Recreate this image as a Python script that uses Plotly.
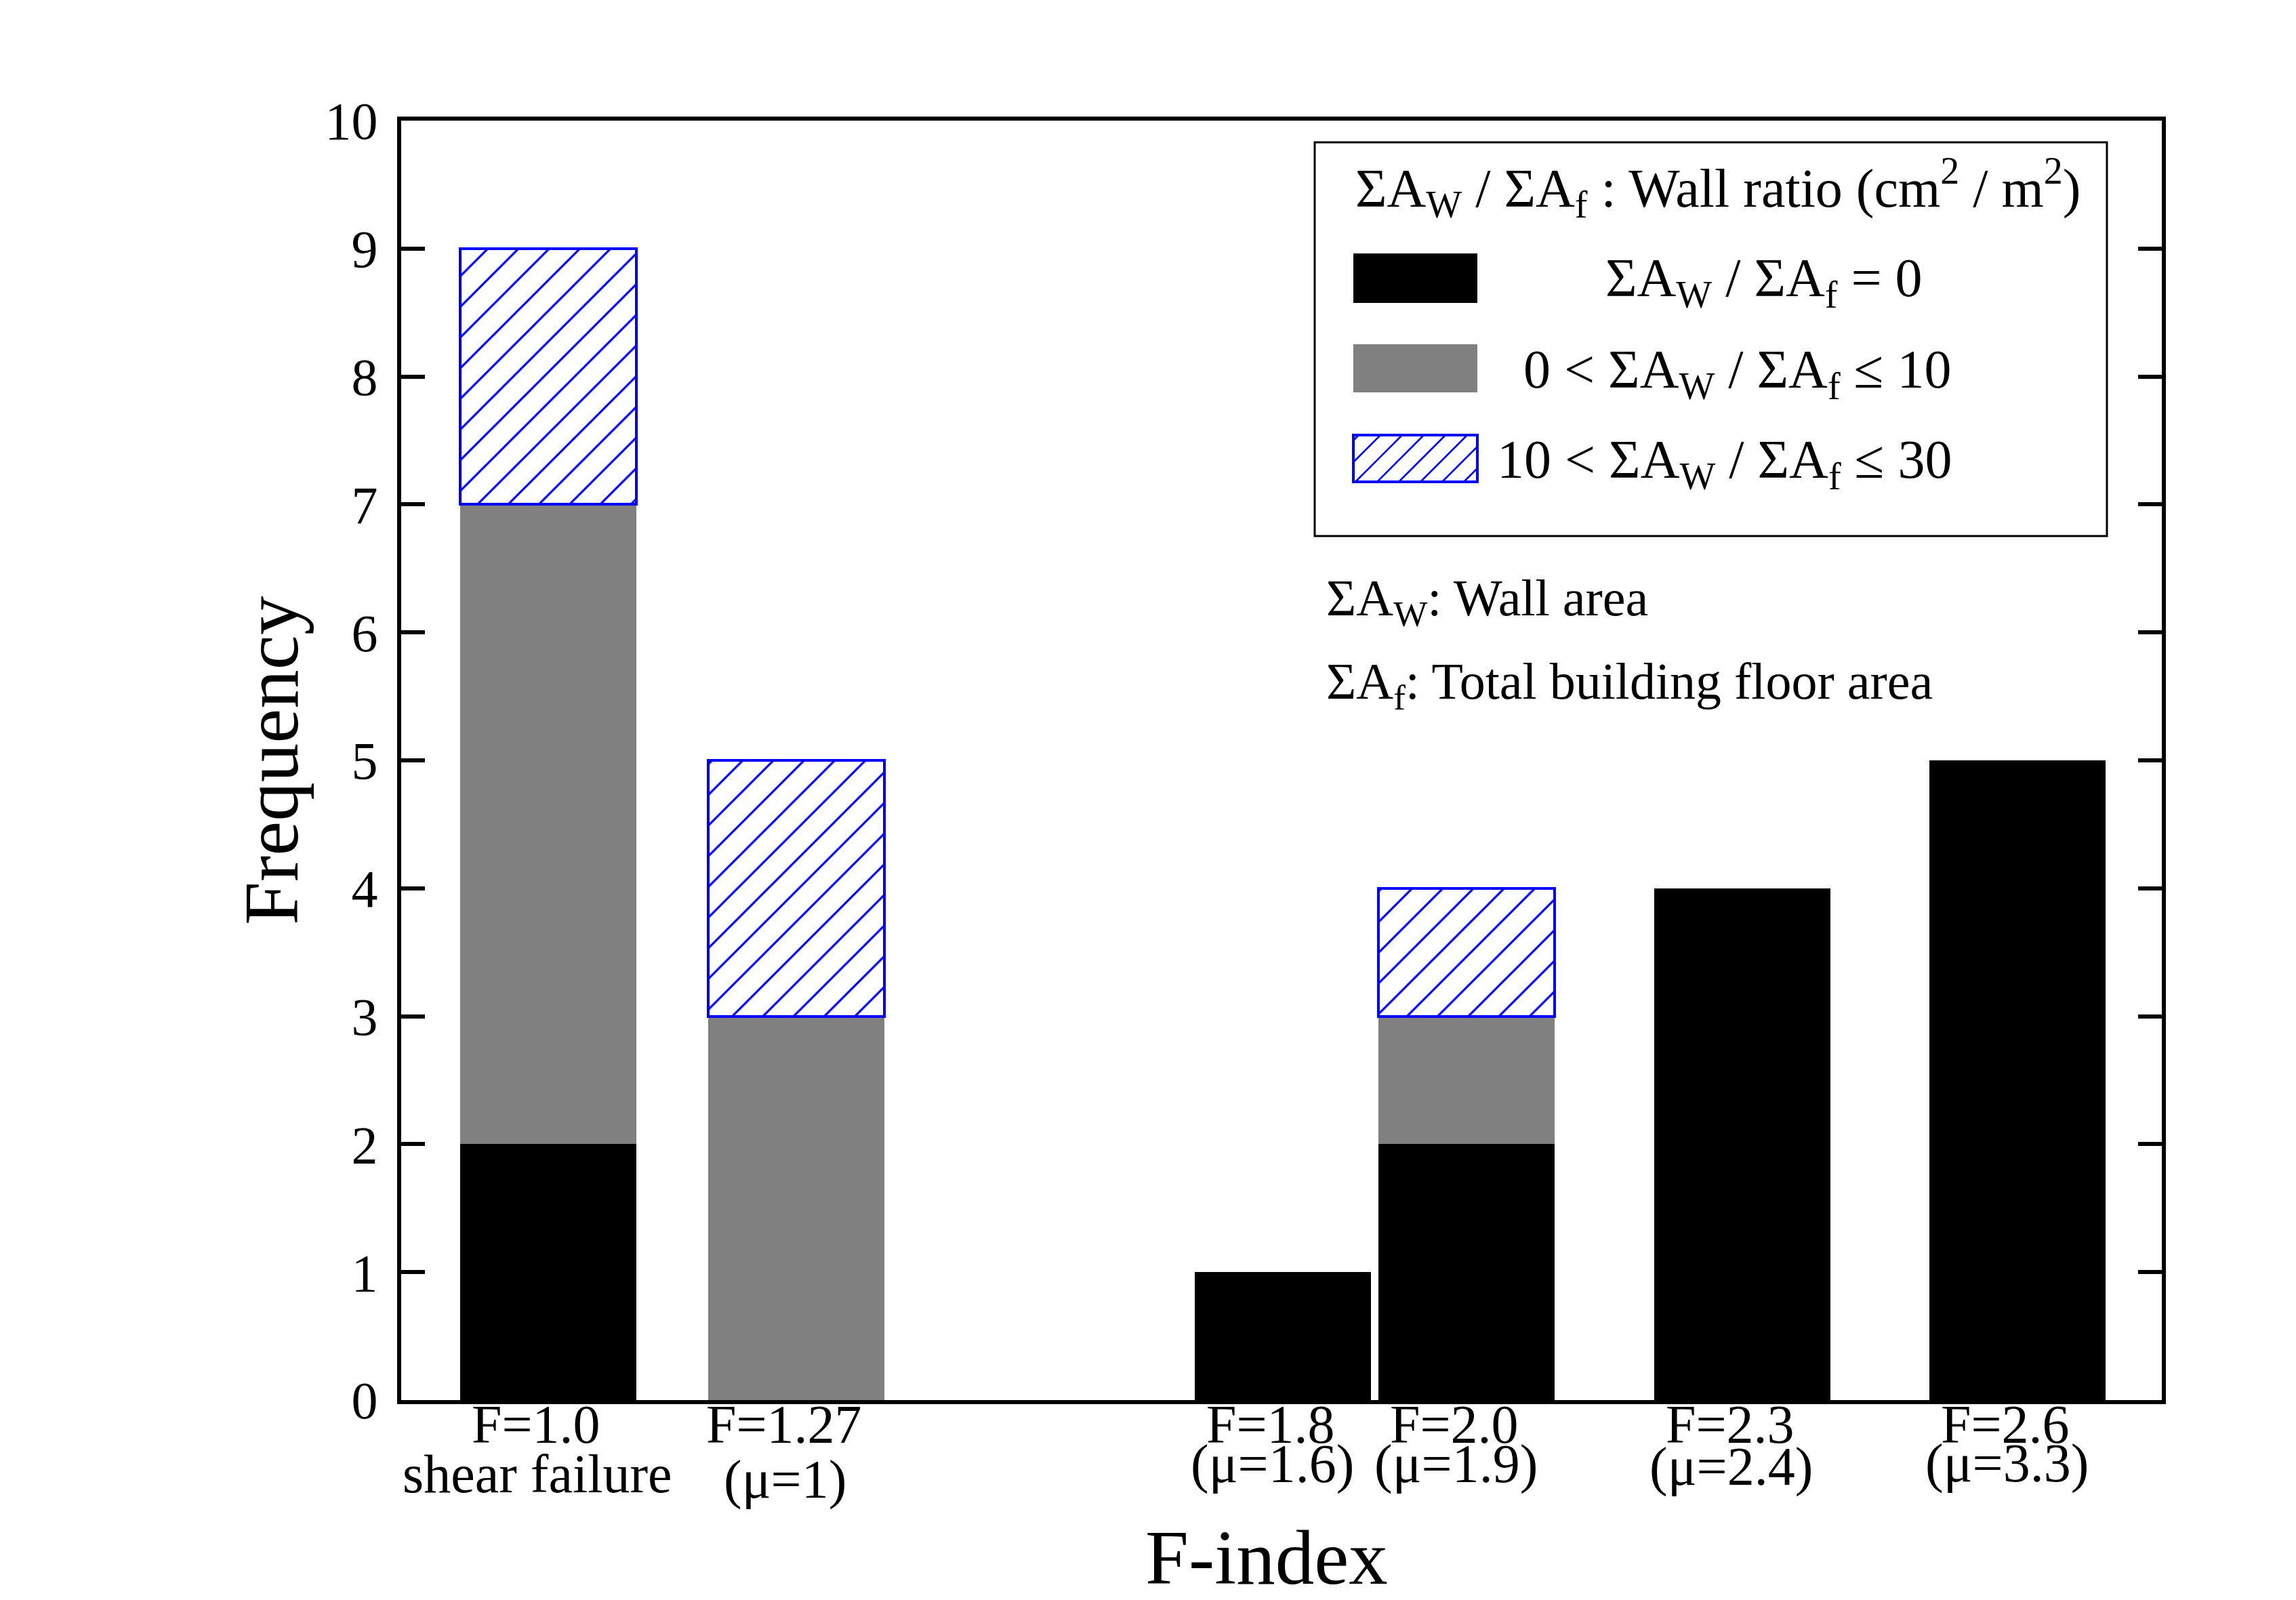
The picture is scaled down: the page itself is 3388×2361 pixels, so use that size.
import plotly.graph_objects as go

# ---------------- data ----------------
f_values = [1.0, 1.27, 1.8, 2.0, 2.3, 2.6]
label_line1 = ["F=1.0", "F=1.27", "F=1.8", "F=2.0", "F=2.3", "F=2.6"]
label_line2 = ["shear failure", "(μ=1)", "(μ=1.6)", "(μ=1.9)", "(μ=2.4)", "(μ=3.3)"]
count_ratio_zero = [2, 0, 1, 2, 4, 5]
count_ratio_0_10 = [5, 3, 0, 1, 0, 0]
count_ratio_10_30 = [2, 2, 0, 1, 0, 0]
y_tick_values = [0, 1, 2, 3, 4, 5, 6, 7, 8, 9, 10]

series_names = [
    "ΣA<sub>W</sub> / ΣA<sub>f</sub> = 0",
    "0 < ΣA<sub>W</sub> / ΣA<sub>f</sub> ≤ 10",
    "10 < ΣA<sub>W</sub> / ΣA<sub>f</sub> ≤ 30",
]
legend_title = "ΣA<sub>W</sub> / ΣA<sub>f</sub> : Wall ratio (cm<sup>2</sup> / m<sup>2</sup>)"
note_lines = ["ΣA<sub>W</sub>: Wall area", "ΣA<sub>f</sub>: Total building floor area"]

# ---------------- layout helpers ----------------
W, H = 3388, 2361
L, R, T, B = 592, 3190, 178, 2066
FONT = "Liberation Serif"
BLUE = "#0000FF"
GRAY = "#808080"


def px(x):
    return (x - L) / (R - L)


def py(y):
    return (B - y) / (B - T)


def nz(vals):
    return [v if v else None for v in vals]


bar_w = 0.192

fig = go.Figure()
fig.add_bar(x=f_values, y=nz(count_ratio_zero), width=bar_w, name=series_names[0],
            marker=dict(color="black", line=dict(width=0)))
fig.add_bar(x=f_values, y=nz(count_ratio_0_10), width=bar_w, name=series_names[1],
            marker=dict(color=GRAY, line=dict(width=0)))
fig.add_bar(x=f_values, y=nz(count_ratio_10_30), width=bar_w, name=series_names[2],
            marker=dict(color="white", line=dict(color=BLUE, width=4),
                        pattern=dict(shape="/", fgcolor=BLUE, bgcolor="white",
                                     size=32, solidity=0.1, fillmode="replace")))

shapes = []
annotations = []

# legend box
shapes.append(dict(type="rect", xref="paper", yref="paper",
                   x0=px(1940), x1=px(3109), y0=py(791), y1=py(210),
                   line=dict(color="black", width=3), fillcolor="rgba(0,0,0,0)"))
# swatches
sw_x0, sw_x1 = 1997, 2180
sw_rows = [(374, 447), (508, 579), (642, 711)]
shapes.append(dict(type="rect", xref="paper", yref="paper",
                   x0=px(sw_x0), x1=px(sw_x1), y0=py(sw_rows[0][1]), y1=py(sw_rows[0][0]),
                   line=dict(width=0), fillcolor="black"))
shapes.append(dict(type="rect", xref="paper", yref="paper",
                   x0=px(sw_x0), x1=px(sw_x1), y0=py(sw_rows[1][1]), y1=py(sw_rows[1][0]),
                   line=dict(width=0), fillcolor=GRAY))
# hatched swatch lines
yt, yb = sw_rows[2]
h = yb - yt
c = sw_x0 - h + 8
while c < sw_x1:
    if c >= sw_x0:
        xa, ya = c, yb
    else:
        xa, ya = sw_x0, yb - (sw_x0 - c)
    if c + h <= sw_x1:
        xb, yb2 = c + h, yt
    else:
        xb, yb2 = sw_x1, yb - (sw_x1 - c)
    if xb - xa > 2:
        shapes.append(dict(type="line", xref="paper", yref="paper",
                           x0=px(xa), y0=py(ya), x1=px(xb), y1=py(yb2),
                           line=dict(color=BLUE, width=2.5)))
    c += 32
shapes.append(dict(type="rect", xref="paper", yref="paper",
                   x0=px(sw_x0), x1=px(sw_x1), y0=py(yb), y1=py(yt),
                   line=dict(color=BLUE, width=4), fillcolor="rgba(0,0,0,0)"))

# legend texts
annotations.append(dict(text=legend_title, xref="paper", yref="paper",
                        x=px(2535), y=py(277), xanchor="center", yanchor="middle",
                        showarrow=False, font=dict(family=FONT, size=80, color="black")))
entry_pos = [(2603, 416), (2563, 551), (2544, 684)]
for name, (ex, ey) in zip(series_names, entry_pos):
    annotations.append(dict(text=name, xref="paper", yref="paper",
                            x=px(ex), y=py(ey), xanchor="center", yanchor="middle",
                            showarrow=False, font=dict(family=FONT, size=80, color="black")))
for i, (line, ny) in enumerate(zip(note_lines, [888, 1011])):
    annotations.append(dict(text=line, xref="paper", yref="paper",
                            x=px(1955), y=py(ny), xanchor="left", yanchor="middle",
                            showarrow=False, font=dict(family=FONT, size=76, color="black")))

# x category labels (two lines each)
line2_y = [2175, 2183, 2160, 2160, 2164, 2159]
for xv, l1, l2, y2 in zip(f_values, label_line1, label_line2, line2_y):
    annotations.append(dict(text=l1, xref="x", yref="paper", x=xv, y=py(2102),
                            xanchor="center", yanchor="middle", xshift=-18,
                            showarrow=False, font=dict(family=FONT, size=80, color="black")))
    annotations.append(dict(text=l2, xref="x", yref="paper", x=xv, y=py(y2),
                            xanchor="center", yanchor="middle", xshift=-16,
                            showarrow=False, font=dict(family=FONT, size=80, color="black")))

# axis titles
annotations.append(dict(text="Frequency", xref="paper", yref="paper",
                        x=px(400), y=py(1122), textangle=-90,
                        xanchor="center", yanchor="middle", showarrow=False,
                        font=dict(family=FONT, size=115, color="black")))
annotations.append(dict(text="F-index", xref="paper", yref="paper",
                        x=px(1869), y=py(2298), xanchor="center", yanchor="middle",
                        showarrow=False, font=dict(family=FONT, size=115, color="black")))

fig.update_layout(
    width=W, height=H,
    margin=dict(l=L, r=W - R, t=T, b=H - B, pad=0),
    paper_bgcolor="white", plot_bgcolor="white",
    barmode="stack", bargap=0,
    showlegend=False,
    shapes=shapes, annotations=annotations,
    font=dict(family=FONT, color="black"),
)
fig.update_xaxes(range=[0.84, 2.757], showgrid=False, zeroline=False,
                 showline=True, linecolor="black", linewidth=6, mirror=True,
                 ticks="", showticklabels=False)
fig.update_yaxes(range=[0, 10], tickvals=y_tick_values, showgrid=False, zeroline=False,
                 showline=True, linecolor="black", linewidth=6, mirror="ticks",
                 ticks="inside", ticklen=35, tickwidth=6, tickcolor="black",
                 tickfont=dict(family=FONT, size=78, color="black"),
                 ticklabelstandoff=13)

fig.write_html("out.html", config={"displayModeBar": False},
               post_script="document.body.style.margin='0';document.body.style.overflow='hidden';")
